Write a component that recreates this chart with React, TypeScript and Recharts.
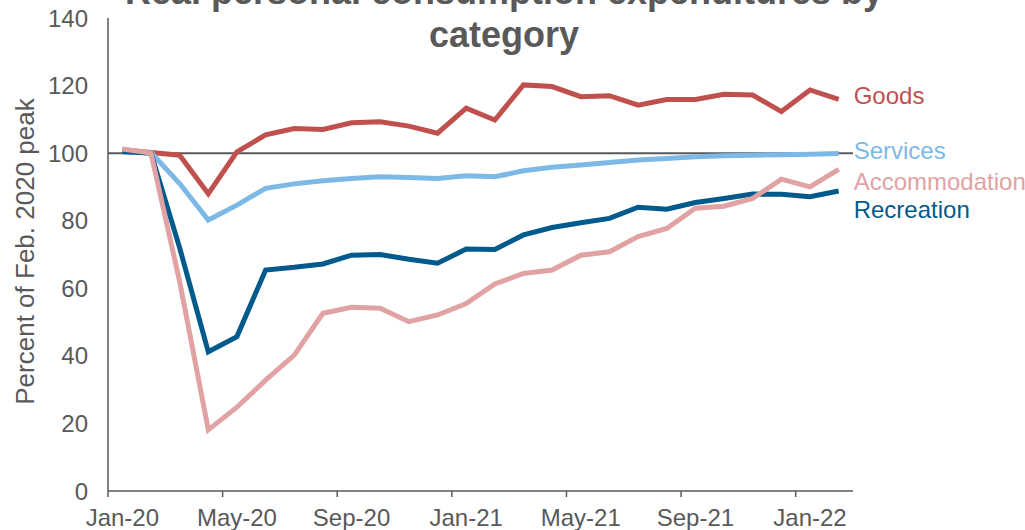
import React from 'react';
import { LineChart, Line, XAxis, YAxis, ReferenceLine, LabelList } from 'recharts';

const months = [
  'Jan-20', 'Feb-20', 'Mar-20', 'Apr-20', 'May-20', 'Jun-20', 'Jul-20', 'Aug-20', 'Sep-20', 'Oct-20', 'Nov-20', 'Dec-20',
  'Jan-21', 'Feb-21', 'Mar-21', 'Apr-21', 'May-21', 'Jun-21', 'Jul-21', 'Aug-21', 'Sep-21', 'Oct-21', 'Nov-21', 'Dec-21',
  'Jan-22', 'Feb-22',
];
const tickLabels = ['Jan-20', 'May-20', 'Sep-20', 'Jan-21', 'May-21', 'Sep-21', 'Jan-22'];
const yTicks = [0, 20, 40, 60, 80, 100, 120, 140];

const goods = [101, 100.2, 99.4, 88, 100.4, 105.4, 107.3, 107, 109, 109.3, 108, 105.9, 113.3, 109.8, 120.2, 119.7, 116.7, 117, 114.2, 115.9, 115.9, 117.4, 117.2, 112.3, 118.7, 115.9];
const services = [100.4, 100.2, 91, 80.2, 84.6, 89.6, 90.9, 91.8, 92.5, 93, 92.8, 92.5, 93.3, 93, 94.8, 95.8, 96.5, 97.2, 98, 98.4, 98.9, 99.2, 99.4, 99.5, 99.7, 99.9];
const accommodation = [101.2, 100, 62, 18.1, 24.8, 32.8, 40.2, 52.6, 54.4, 54.1, 50.1, 52.1, 55.5, 61.3, 64.4, 65.4, 69.8, 70.8, 75.3, 77.7, 83.7, 84.3, 86.6, 92.3, 90, 95.2];
const recreation = [100.5, 100, 72, 41.2, 45.7, 65.4, 66.2, 67.2, 69.8, 70, 68.6, 67.4, 71.6, 71.5, 75.8, 78, 79.4, 80.7, 84, 83.4, 85.4, 86.6, 87.9, 87.8, 87.1, 88.8];

// points sit mid-month, ticks at month starts
const data = months.map((m, i) => ({
  t: i + 0.5,
  month: m,
  goods: goods[i],
  services: services[i],
  accommodation: accommodation[i],
  recreation: recreation[i],
}));

const FONT = '"Liberation Sans", Arial, sans-serif';
const GREY = '#595959';
const HALF_MONTH = 745 / 26 / 2; // labels are centred on the month, not on the tick

const series = [
  { key: 'goods', name: 'Goods', color: '#C0504D', dy: -4 },
  { key: 'services', name: 'Services', color: '#7DB9E6', dy: -3 },
  { key: 'recreation', name: 'Recreation', color: '#005A8C', dy: 19 },
  { key: 'accommodation', name: 'Accommodation', color: '#E0A2A2', dy: 12 },
];

const endLabel = (name: string, color: string, dy: number) => (props: any) => {
  const { x, y, index } = props;
  if (index !== data.length - 1) return null;
  return (
    <text x={x + 15} y={y + dy} fill={color} fontSize={24} fontFamily={FONT} dominantBaseline="central">
      {name}
    </text>
  );
};

const MonthTick = (props: any) => {
  const { x, y, payload, index } = props;
  return (
    <text x={x + HALF_MONTH} y={y} dy="0.71em" textAnchor="middle" fill={GREY} fontSize={24} fontFamily={FONT}>
      {tickLabels[index] ?? payload.value}
    </text>
  );
};

const App = () => {
  return (
    <div style={{ position: 'absolute', left: 0, top: 0, width: 1025, height: 530, background: '#fff', overflow: 'hidden' }}>
      <LineChart width={1025} height={530} data={data} margin={{ top: 18, right: 172, bottom: 0, left: 0 }}>
        <XAxis
          dataKey="t"
          type="number"
          domain={[0, 26]}
          ticks={[0, 4, 8, 12, 16, 20, 24]}
          height={39}
          stroke={GREY}
          strokeWidth={1.5}
          tickSize={6}
          tickMargin={12}
          tick={<MonthTick />}
          interval={0}
        />
        <YAxis
          domain={[0, 140]}
          ticks={yTicks}
          width={108}
          stroke={GREY}
          strokeWidth={1.5}
          tickLine={false}
          tickSize={0}
          tickMargin={20}
          tick={{ fill: GREY, fontSize: 24, fontFamily: FONT }}
          label={{
            value: 'Percent of Feb. 2020 peak',
            angle: -90,
            position: 'center',
            dx: -29,
            dy: -3,
            fill: GREY,
            fontSize: 26,
            fontFamily: FONT,
          }}
        />
        <ReferenceLine y={100} stroke={GREY} strokeWidth={2} />
        {series.map((s) => (
          <Line
            key={s.key}
            dataKey={s.key}
            type="linear"
            stroke={s.color}
            strokeWidth={5}
            dot={false}
            isAnimationActive={false}
          >
            <LabelList dataKey={s.key} content={endLabel(s.name, s.color, s.dy)} />
          </Line>
        ))}
      </LineChart>
      <div
        style={{
          position: 'absolute',
          left: 0,
          top: -30,
          width: 1008,
          textAlign: 'center',
          fontFamily: FONT,
          fontWeight: 'bold',
          fontSize: 36,
          lineHeight: '43px',
          color: GREY,
        }}
      >
        Real personal consumption expenditures by
        <br />
        category
      </div>
    </div>
  );
};

export default App;
